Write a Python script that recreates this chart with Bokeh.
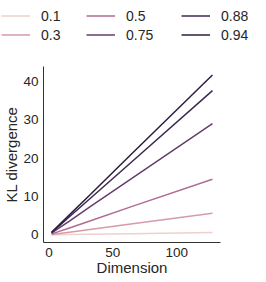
from bokeh.plotting import figure
from bokeh.models import Legend, LegendItem, FixedTicker, Range1d
from bokeh.embed import file_html
from bokeh.resources import INLINE

dims = [2, 4, 8, 16, 32, 64, 128]
rho_labels = ["0.1", "0.3", "0.5", "0.75", "0.88", "0.94"]
kl_01 = [0.01, 0.02, 0.04, 0.08, 0.15, 0.3, 0.6]
kl_03 = [0.09, 0.18, 0.35, 0.7, 1.4, 2.8, 5.6]
kl_05 = [0.23, 0.45, 0.9, 1.8, 3.6, 7.3, 14.5]
kl_075 = [0.45, 0.9, 1.8, 3.6, 7.3, 14.5, 29.0]
kl_088 = [0.59, 1.18, 2.35, 4.7, 9.4, 18.8, 37.6]
kl_094 = [0.65, 1.3, 2.6, 5.2, 10.4, 20.9, 41.7]
series = [kl_01, kl_03, kl_05, kl_075, kl_088, kl_094]
colors = ["#edd1cb", "#d69ba8", "#ae6c91", "#673c6d", "#3f284f", "#2d1e3e"]
x_ticks = [0, 50, 100]
y_ticks = [0, 10, 20, 30, 40]

FONT = "Liberation Sans"
TXT = "#262626"

# ---- legend strip (own root, so its frame spans the full width) ----
lp = figure(width=250, height=66, output_backend="svg", toolbar_location=None,
            x_range=Range1d(1000, 2000), y_range=Range1d(1000, 2000),
            x_axis_location=None, y_axis_location=None,
            min_border_left=0, min_border_right=0, min_border_top=0, min_border_bottom=0)
lp.outline_line_color = None
lp.grid.visible = False
leg_renderers = [lp.line(dims, ys, line_color=c, line_width=1.5) for ys, c in zip(series, colors)]

col_x = [1, 86, 181]
for ci in range(3):
    items = [LegendItem(label=rho_labels[2 * ci + k], renderers=[leg_renderers[2 * ci + k]]) for k in range(2)]
    lg = Legend(items=items, location=(col_x[ci], 22), orientation="vertical",
                padding=0, spacing=0, margin=0, glyph_width=29, glyph_height=19,
                label_height=19, label_standoff=11, label_text_font=FONT,
                label_text_font_size="14px", label_text_color=TXT,
                border_line_color=None, background_fill_alpha=0)
    lp.add_layout(lg, "center")

# ---- main plot ----
p = figure(frame_width=177, frame_height=176, output_backend="svg", toolbar_location=None,
           x_range=Range1d(-4.3, 134.3), y_range=Range1d(-2.0, 43.9),
           min_border_left=37, min_border_right=36, min_border_top=0, min_border_bottom=36)
p.outline_line_color = None
p.grid.visible = False

for ys, c in zip(series, colors):
    p.line(dims, ys, line_color=c, line_width=1.5)

for ax in (p.xaxis[0], p.yaxis[0]):
    ax.major_tick_out = 0
    ax.major_tick_in = 0
    ax.minor_tick_out = 0
    ax.minor_tick_in = 0
    ax.axis_line_color = "#333333"
    ax.axis_line_width = 1
    ax.major_label_text_font = FONT
    ax.major_label_text_font_size = "13.5px"
    ax.major_label_text_color = TXT
    ax.axis_label_text_font = FONT
    ax.axis_label_text_font_size = "15px"
    ax.axis_label_text_font_style = "normal"
    ax.axis_label_text_color = TXT

p.xaxis[0].ticker = FixedTicker(ticks=x_ticks)
p.yaxis[0].ticker = FixedTicker(ticks=y_ticks)
p.xaxis[0].axis_label = "Dimension"
p.yaxis[0].axis_label = "KL divergence"
p.xaxis[0].major_label_standoff = 5
p.xaxis[0].axis_label_standoff = -1
p.yaxis[0].major_label_standoff = 5
p.yaxis[0].axis_label_standoff = 0

open("out.html", "w").write(file_html([lp, p], INLINE))
